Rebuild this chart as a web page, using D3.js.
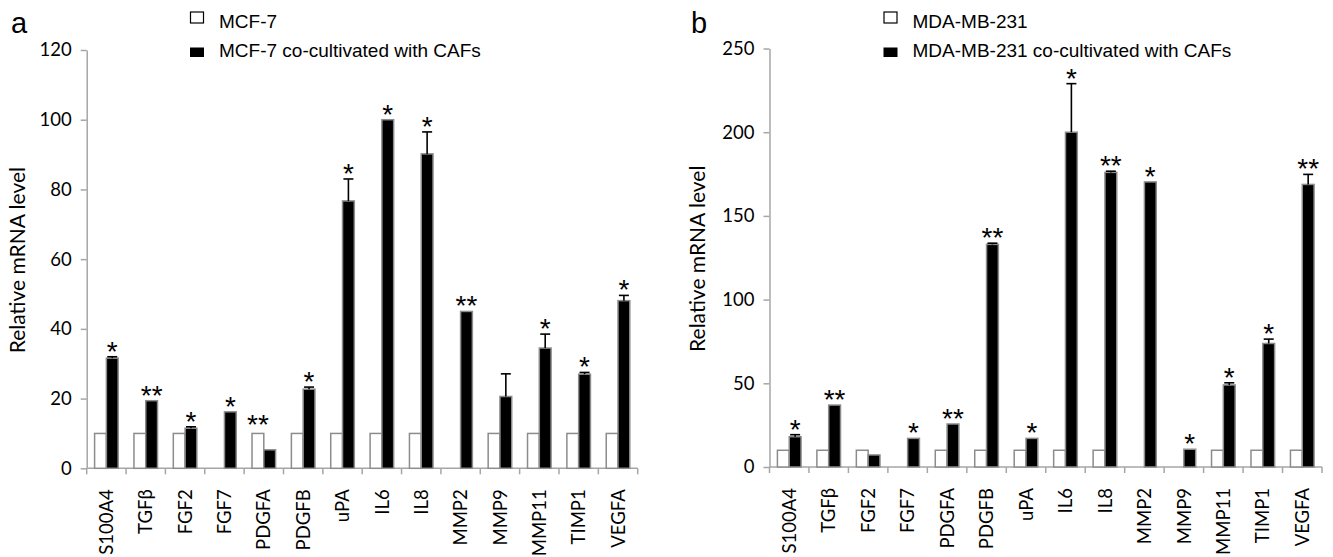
<!DOCTYPE html>
<html>
<head>
<meta charset="utf-8">
<script src="https://cdn.jsdelivr.net/npm/d3@7"></script>
<style>
    body { margin: 0; background: #fff; }
    .tick text { font-family: Lato, "Open Sans", sans-serif; fill: #000; }
    .legend text, .panel-letter { font-family: "Liberation Sans", Arial, sans-serif; fill: #000; }
</style>
</head>
<body>
<div id="chart"></div>
<script>
// genes on the x axis (same for both panels)
let genes = ["S100A4", "TGFβ", "FGF2", "FGF7", "PDGFA", "PDGFB", "uPA", "IL6", "IL8", "MMP2", "MMP9", "MMP11", "TIMP1", "VEGFA"];

// panel a - MCF-7
let mcfControl = [10, 10, 10, null, 10, 10, 10, 10, 10, null, 10, 10, 10, 10];
let mcfCocult  = [31.6, 19.4, 11.5, 16.2, 5.3, 22.7, 76.7, 100, 90.2, 45, 20.6, 34.5, 27, 48.1];
let mcfError   = [0.4, 0, 0.4, 0, 0, 0.6, 6.3, 0, 6.3, 0, 6.5, 4, 0.5, 1.5];
let mcfStars   = ["*", "**", "*", "*", "**", "*", "*", "*", "*", "**", "", "*", "*", "*"];
let mcfTicks   = [0, 20, 40, 60, 80, 100, 120];

// panel b - MDA-MB-231
let mdaControl = [10, 10, 10, null, 10, 10, 10, 10, 10, null, null, 10, 10, 10];
let mdaCocult  = [18.1, 37, 7.2, 17.1, 25.7, 133, 17.1, 200, 176, 170.3, 10.6, 49, 73.8, 168.8];
let mdaError   = [1.2, 0, 0, 0, 0, 0.7, 0, 29, 0.7, 0, 0, 1.3, 2.6, 6];
let mdaStars   = ["*", "**", "", "*", "**", "**", "*", "*", "**", "*", "*", "*", "*", "**"];
let mdaTicks   = [0, 50, 100, 150, 200, 250];

let svg = d3.select("#chart").append("svg")
    .attr("width", 1333)
    .attr("height", 557);

class GroupedBars {

    constructor(svg, cfg) {
        this.svg = svg;
        this.cfg = cfg;
        this.initVis();
    }

    initVis() {
        let vis = this, c = vis.cfg;

        vis.g = vis.svg.append("g");

        vis.x = d3.scaleBand().domain(genes).range([c.left, c.right]).padding(0);
        vis.xInner = d3.scaleBand().domain(["ctrl", "co"]).range([0, vis.x.bandwidth()])
            .paddingInner(0).paddingOuter(0.67);
        vis.y = d3.scaleLinear().domain([0, d3.max(c.ticks)]).range([c.bottom, c.top]);

        // y axis
        let yAxis = vis.g.append("g")
            .attr("transform", `translate(${c.left},0)`)
            .call(d3.axisLeft(vis.y).tickValues(c.ticks).tickSize(6).tickSizeOuter(0).tickPadding(c.tickPad));
        yAxis.select(".domain").attr("stroke", "#a6a6a6").attr("stroke-width", 1.5);
        yAxis.selectAll(".tick line").attr("stroke", "#a6a6a6").attr("stroke-width", 1.5);
        yAxis.selectAll(".tick text").style("font-size", "18.5px");

        // x axis labels
        let xAxis = vis.g.append("g")
            .attr("transform", `translate(0,${c.bottom})`)
            .call(d3.axisBottom(vis.x).tickSize(0));
        xAxis.select(".domain").remove();
        xAxis.selectAll(".tick text")
            .style("font-size", "18.5px")
            .attr("text-anchor", "end")
            .attr("transform", "rotate(-90)")
            .attr("x", -21)
            .attr("y", 0)
            .attr("dy", "0.36em");

        // x axis line and boundary ticks
        vis.g.append("line")
            .attr("x1", c.left).attr("x2", c.right)
            .attr("y1", c.bottom).attr("y2", c.bottom)
            .attr("stroke", "#a6a6a6").attr("stroke-width", 1.5);
        let bounds = genes.map(d => vis.x(d)).concat([vis.x.range()[1]]);
        vis.g.selectAll(".xtick").data(bounds).enter().append("line")
            .attr("class", "xtick")
            .attr("x1", d => d).attr("x2", d => d)
            .attr("y1", c.bottom).attr("y2", c.bottom + 6)
            .attr("stroke", "#a6a6a6").attr("stroke-width", 1.5);

        // y axis title
        vis.g.append("text")
            .attr("transform", `translate(${c.titleX},${(c.top + c.bottom) / 2 + 1}) rotate(-90)`)
            .attr("text-anchor", "middle")
            .style("font-family", "Lato, sans-serif")
            .style("font-size", "21px")
            .text("Relative mRNA level");

        // panel letter
        vis.g.append("text")
            .attr("class", "panel-letter")
            .attr("x", c.letterX).attr("y", 33)
            .style("font-size", "29px")
            .text(c.letter);

        // legend
        let legend = vis.g.append("g").attr("class", "legend")
            .attr("transform", `translate(${c.legendX},0)`);
        legend.append("rect")
            .attr("x", 0.5).attr("y", 12).attr("width", 13).attr("height", 11)
            .attr("fill", "#fff").attr("stroke", "#000").attr("stroke-width", 1.2);
        legend.append("text").attr("x", 29).attr("y", 28).style("font-size", "19px").text(c.names[0]);
        legend.append("rect")
            .attr("x", 0).attr("y", 47.5).attr("width", 14).attr("height", 9.5)
            .attr("fill", "#000");
        legend.append("text").attr("x", 29).attr("y", 57).style("font-size", "19px").text(c.names[1]);

        vis.wrangleData();
    }

    wrangleData() {
        let vis = this, c = vis.cfg;
        vis.displayData = genes.map((g, i) => ({
            gene: g,
            ctrl: c.control[i],
            co: c.cocult[i],
            err: c.error[i],
            star: c.stars[i]
        }));
        vis.updateVis();
    }

    updateVis() {
        let vis = this;

        let groups = vis.g.selectAll(".gene").data(vis.displayData).enter().append("g")
            .attr("class", "gene")
            .attr("transform", d => `translate(${vis.x(d.gene)},0)`);

        // control bars (white)
        groups.filter(d => d.ctrl != null).append("rect")
            .attr("x", vis.xInner("ctrl"))
            .attr("width", vis.xInner.bandwidth())
            .attr("y", d => vis.y(d.ctrl))
            .attr("height", d => vis.y(0) - vis.y(d.ctrl))
            .attr("fill", "#fff")
            .attr("stroke", "#8c8c8c")
            .attr("stroke-width", 1.5);

        // co-cultivated bars (black)
        groups.append("rect")
            .attr("x", vis.xInner("co"))
            .attr("width", vis.xInner.bandwidth())
            .attr("y", d => vis.y(d.co))
            .attr("height", d => vis.y(0) - vis.y(d.co))
            .attr("fill", "#000")
            .attr("stroke", "#8c8c8c")
            .attr("stroke-width", 1.5);

        let cx = vis.xInner("co") + vis.xInner.bandwidth() / 2;
        let cxCtrl = vis.xInner("ctrl") + vis.xInner.bandwidth() / 2;

        // error bars (upper only)
        let withErr = groups.filter(d => d.err > 0);
        withErr.append("line")
            .attr("x1", cx).attr("x2", cx)
            .attr("y1", d => vis.y(d.co))
            .attr("y2", d => vis.y(d.co + d.err))
            .attr("stroke", "#000").attr("stroke-width", 1.6);
        withErr.append("line")
            .attr("x1", cx - 5).attr("x2", cx + 5)
            .attr("y1", d => vis.y(d.co + d.err))
            .attr("y2", d => vis.y(d.co + d.err))
            .attr("stroke", "#000").attr("stroke-width", 1.6);

        // significance stars, above the taller of the two bars
        groups.filter(d => d.star).append("text")
            .attr("x", d => d.ctrl > d.co ? cxCtrl : cx)
            .attr("y", d => Math.min(vis.y(d.co + d.err), d.ctrl ? vis.y(d.ctrl) - 3 : Infinity) + 4)
            .attr("text-anchor", "middle")
            .style("font-family", "'Liberation Sans', Arial, sans-serif")
            .style("font-size", "28px")
            .text(d => d.star);
    }
}

new GroupedBars(svg, {
    left: 86.7, right: 637.7, top: 50, bottom: 468.3,
    ticks: mcfTicks, tickPad: 9,
    control: mcfControl, cocult: mcfCocult, error: mcfError, stars: mcfStars,
    names: ["MCF-7", "MCF-7 co-cultivated with CAFs"],
    titleX: 25, letter: "a", letterX: 11, legendX: 190
});

new GroupedBars(svg, {
    left: 769.5, right: 1322, top: 48.5, bottom: 467,
    ticks: mdaTicks, tickPad: 9,
    control: mdaControl, cocult: mdaCocult, error: mdaError, stars: mdaStars,
    names: ["MDA-MB-231", "MDA-MB-231 co-cultivated with CAFs"],
    titleX: 705, letter: "b", letterX: 691, legendX: 883.5
});
</script>
</body>
</html>
